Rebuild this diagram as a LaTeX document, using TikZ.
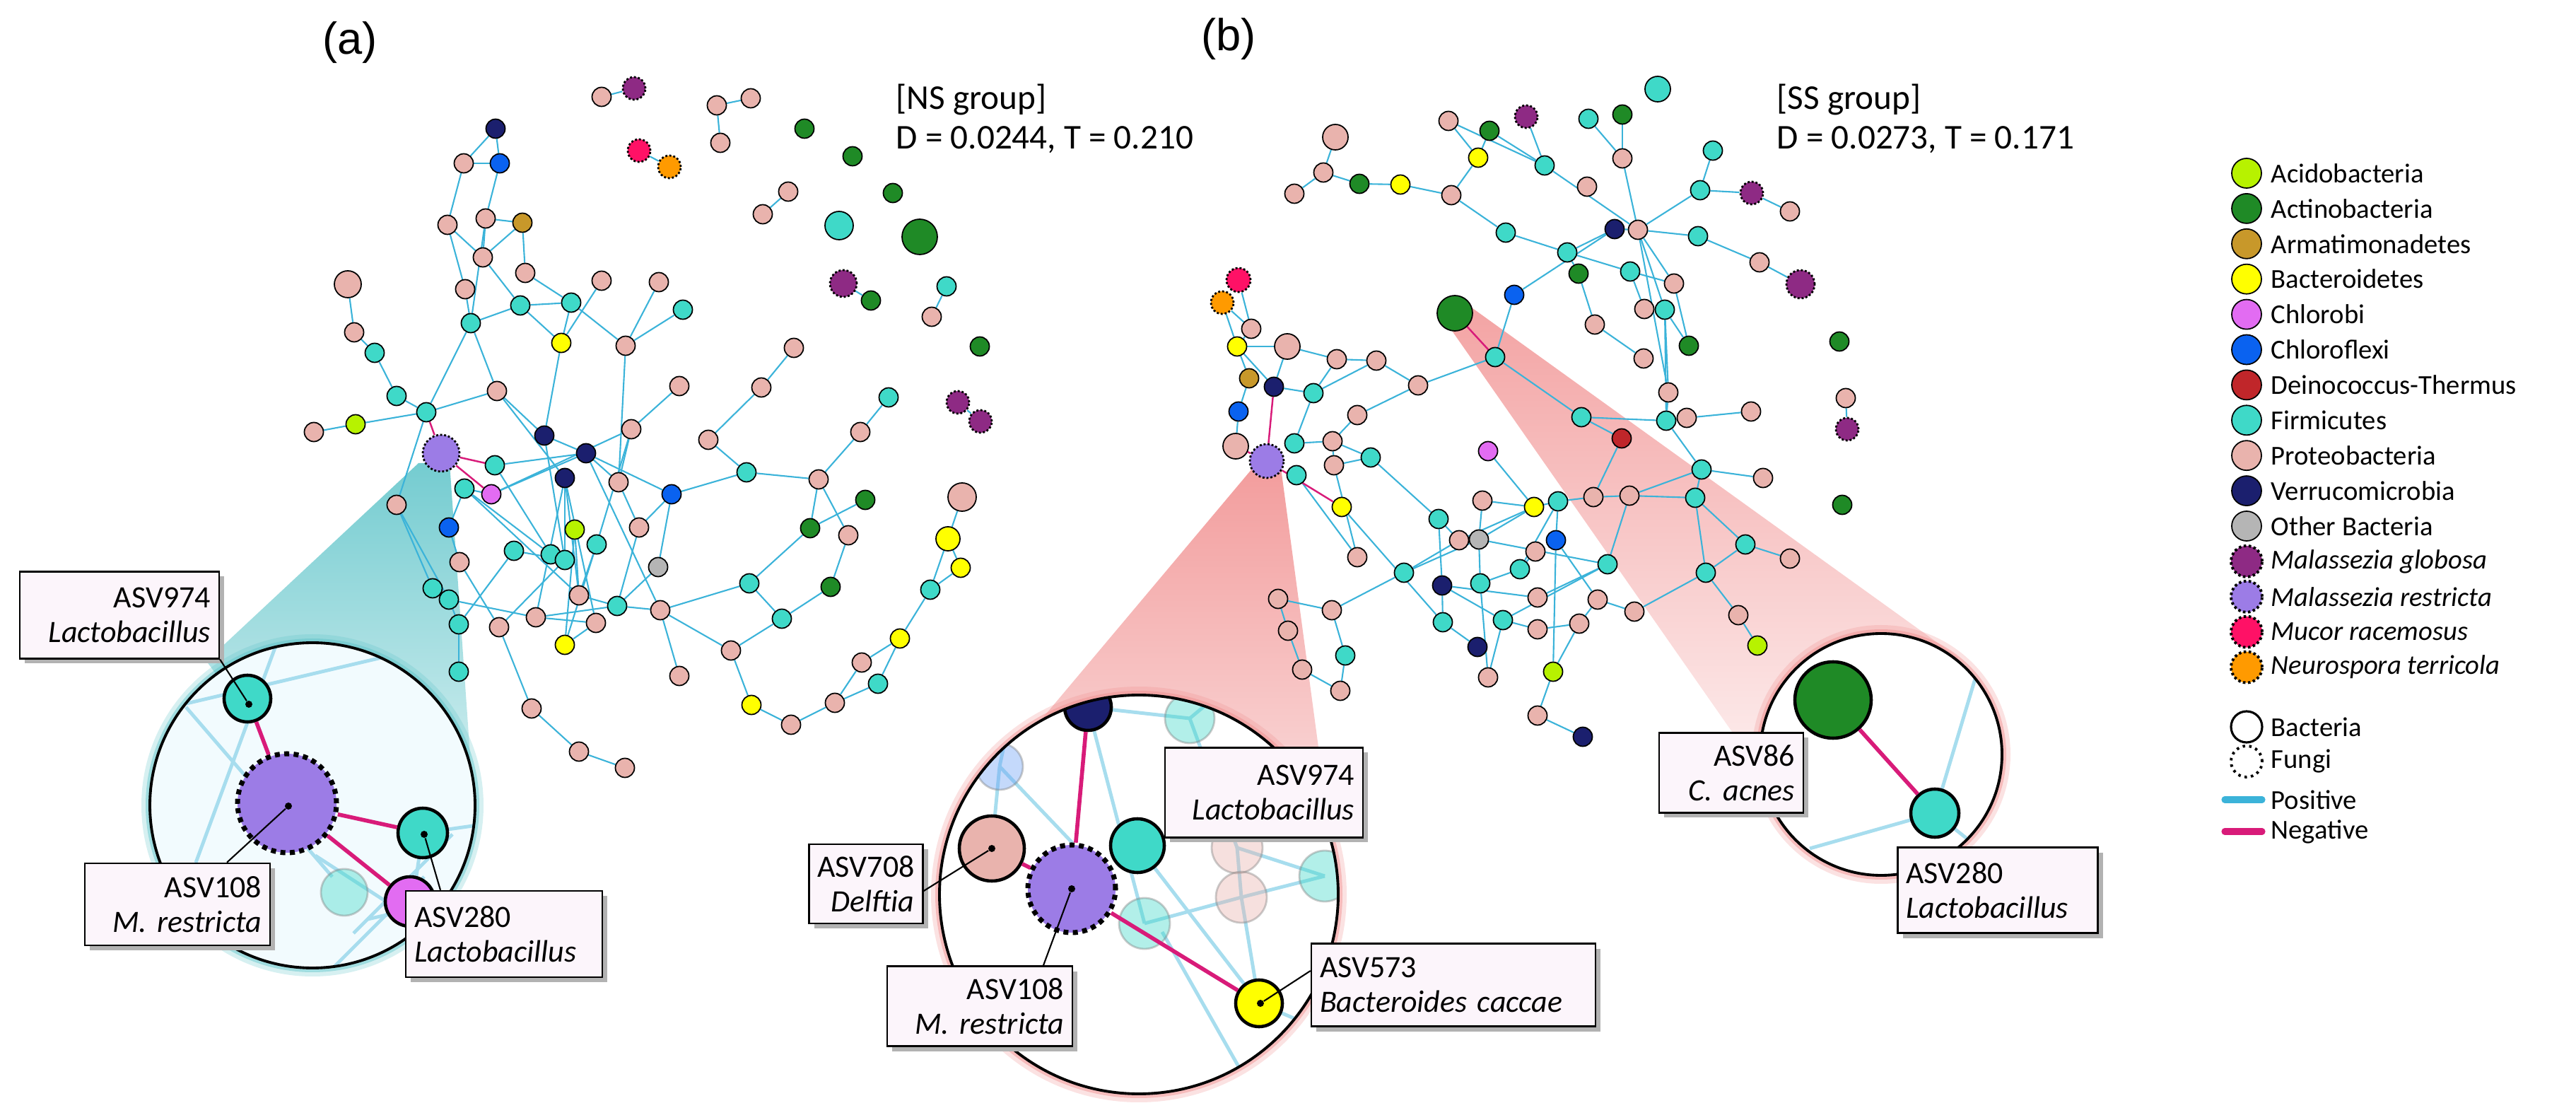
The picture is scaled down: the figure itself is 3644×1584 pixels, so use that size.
\documentclass[tikz,border=0pt]{standalone}
\usepackage{fontspec}
\setmainfont{Carlito}
\newfontfamily\arialf{Liberation Sans}
\usetikzlibrary{backgrounds,shadows}
\definecolor{cP}{HTML}{E9B3AD}
\definecolor{cF}{HTML}{3FD9C8}
\definecolor{cG}{HTML}{1F8A26}
\definecolor{cV}{HTML}{1B1F6E}
\definecolor{cB}{HTML}{0A62F0}
\definecolor{cA}{HTML}{B7F200}
\definecolor{cY}{HTML}{FFFF00}
\definecolor{cC}{HTML}{E26CF2}
\definecolor{cR}{HTML}{C8982A}
\definecolor{cD}{HTML}{C0262A}
\definecolor{cO}{HTML}{B5B5B5}
\definecolor{cMG}{HTML}{8E2A84}
\definecolor{cMR}{HTML}{9C7CE6}
\definecolor{cMU}{HTML}{FF1166}
\definecolor{cNT}{HTML}{FF9A00}
\definecolor{epos}{HTML}{3BB3D9}
\definecolor{eneg}{HTML}{D81B79}
\definecolor{boxc}{HTML}{FCF5FB}
\definecolor{glowA}{HTML}{5CC3C8}
\definecolor{glowB}{HTML}{F08C8C}
\tikzset{
 nd/.style={circle,draw=black,line width=0.5pt,inner sep=0pt,minimum size=2.7mm},
 fg/.style={circle,draw=black,inner sep=0pt,minimum size=3.2mm,line width=0.8pt,dash pattern=on 0.8pt off 0.8pt},
 pe/.style={draw=epos,line width=0.6pt},
 ne/.style={draw=eneg,line width=0.7pt},
 lpe/.style={draw=epos!45,line width=1.4pt},
 lne/.style={draw=eneg,line width=1.6pt},
 faint/.style={circle,draw=gray,line width=0.8pt,inner sep=0pt,opacity=0.4},
 big/.style={circle,draw=black,line width=1.3pt,inner sep=0pt},
 bigf/.style={circle,draw=black,line width=2pt,inner sep=0pt,dash pattern=on 2pt off 1.8pt},
 dot/.style={circle,fill=black,inner sep=0pt,minimum size=1mm},
 lead/.style={draw=black,line width=0.6pt},
 box/.style={draw=black,line width=0.7pt,fill=boxc,inner sep=1.2mm,font=\fontsize{12.5}{14}\selectfont,drop shadow={shadow xshift=0.7mm,shadow yshift=-0.7mm,fill=gray!60,opacity=1}},
 lgt/.style={font=\fontsize{11}{12}\selectfont,inner sep=0pt,anchor=west},
 grp/.style={font=\fontsize{14}{16}\selectfont,inner sep=0pt,anchor=north west,align=left},
}
\begin{document}
\begin{tikzpicture}[x=0.1mm,y=-0.1mm]
\useasboundingbox (0,0) rectangle (3644,1584);
% ---------- panel (a) nodes ----------
\foreach \n/\x/\y/\t in {a1/851/137/P,a3/1014/149/P,a4/1062/139/P,a5/1019/202/P,a8/1138/182/G,a9/1206/221/G,a10/1263/273/G,a11/1115/271/P,a12/1079/303/P,a16/1232/425/G,a17/1339/405/F,a18/1318/448/P,a19/1386/490/G,a24/1359/803/Y,a25/1316/834/F,a26/1273/903/Y,a27/1219/937/P,a28/1242/967/F,a29/1181/994/P,a30/1119/1025/P,a31/1063/997/Y,a32/1034/920/P,a33/1106/875/F,a34/1175/830/G,a35/1060/825/F,a36/961/956/P,a37/934/863/P,a38/931/802/O,a39/904/746/P,a40/950/699/B,a41/875/682/P,a42/1056/668/F,a43/1158/678/P,a44/1224/707/G,a45/1146/747/G,a46/1200/757/P,a47/1257/562/F,a48/1217/611/P,a49/1002/622/P,a50/1077/548/P,a51/1123/492/P,a52/961/546/P,a53/893/607/P,a54/829/641/V,a55/799/676/V,a56/770/616/V,a57/703/553/P,a58/700/658/F,a59/695/699/C,a60/657/691/F,a62/603/583/F,a63/503/600/A,a64/444/611/P,a65/561/560/F,a66/530/499/F,a67/501/470/P,a69/666/457/F,a70/658/409/P,a71/683/364/P,a72/633/318/P,a73/687/309/P,a74/739/315/R,a75/656/231/P,a76/707/231/B,a77/701/182/V,a78/743/386/P,a79/736/432/F,a80/808/428/F,a81/851/397/P,a82/932/399/P,a83/966/438/F,a84/794/485/Y,a85/885/489/P,a86/561/714/P,a87/635/746/B,a88/813/749/A,a89/844/770/F,a90/727/779/F,a91/779/784/F,a92/799/792/F,a93/650/795/P,a94/612/832/F,a95/635/848/F,a96/649/883/F,a97/706/887/P,a98/758/873/P,a99/819/842/P,a100/843/881/P,a101/873/857/F,a102/799/912/Y,a103/649/950/F,a104/752/1002/P,a105/819/1063/P,a106/884/1086/P}
  \node[nd,fill=c\t] (\n) at (\x,\y) {};
\node[fg,fill=cMG] (a2) at (897,125) {};
\node[fg,fill=cMU] (a6) at (904,213) {};
\node[fg,fill=cNT] (a7) at (947,236) {};
\node[nd,fill=cF,minimum size=4mm] (a13) at (1187,319) {};
\node[nd,fill=cG,minimum size=5mm] (a14) at (1301,335) {};
\node[fg,fill=cMG,minimum size=3.8mm] (a15) at (1193,401) {};
\node[fg,fill=cMG] (a20) at (1355,569) {};
\node[fg,fill=cMG] (a21) at (1387,596) {};
\node[nd,fill=cP,minimum size=4mm] (a22) at (1361,703) {};
\node[nd,fill=cY,minimum size=3.4mm] (a23) at (1341,762) {};
\node[fg,fill=cMR,minimum size=5.2mm] (a61) at (624,641) {};
\node[nd,fill=cP,minimum size=3.8mm] (a68) at (492,402) {};
% ---------- panel (b) nodes ----------
\foreach \n/\x/\y/\t in {b2/2049/171/P,b4/2107/185/G,b5/2247/168/F,b6/2295/162/G,b8/2091/223/Y,b9/2185/234/F,b10/2295/224/P,b11/2423/213/F,b12/1872/244/P,b13/1831/274/P,b14/1923/260/G,b15/1981/261/Y,b16/2053/276/P,b17/2245/264/P,b18/2405/269/F,b20/2532/299/P,b21/2130/329/F,b22/2284/324/V,b23/2317/325/P,b24/2402/334/F,b25/2217/357/F,b26/2233/387/G,b27/2306/384/F,b28/2489/371/P,b29/2368/401/P,b33/2142/417/B,b34/2326/437/P,b35/2355/438/F,b37/2256/459/P,b38/1770/465/P,b39/2602/483/G,b40/1750/490/Y,b42/1891/508/P,b43/1947/510/P,b44/2325/507/P,b45/2389/489/G,b46/2115/505/F,b47/1767/535/R,b48/1802/547/V,b49/1858/556/F,b50/2006/545/P,b51/2360/555/P,b52/2611/563/P,b53/1752/582/B,b54/1920/587/P,b55/2237/590/F,b56/2357/595/F,b57/2386/591/P,b58/2477/582/P,b61/1831/627/F,b62/1885/624/P,b63/2294/620/D,b64/2105/638/C,b66/1887/658/P,b67/1939/647/F,b68/1834/672/F,b69/2407/664/F,b70/2494/676/P,b71/2606/714/G,b72/1898/717/Y,b73/2097/708/P,b74/2170/717/Y,b75/2204/709/F,b76/2254/703/P,b77/2305/701/P,b78/2398/704/F,b79/2035/734/F,c1/2064/764/P,c2/2092/763/O,c3/2201/764/B,c4/2172/780/P,c5/2274/798/F,c6/2469/770/F,c7/2532/790/P,c8/2413/810/F,c9/1920/788/P,c10/1986/810/F,c11/2040/828/V,c12/2094/825/F,c13/2150/805/F,c14/1808/847/P,c15/1884/863/P,c16/2175/845/P,c17/2260/848/P,c18/2312/865/P,c19/2459/870/P,c20/2041/880/F,c21/2126/877/F,c22/2175/890/P,c23/2234/882/P,c24/1822/892/P,c25/1903/927/F,c26/2090/915/V,c27/2486/913/A,c28/1842/947/P,c29/2197/950/A,c30/1896/977/P,c31/2105/958/P,c32/2175/1012/P,c33/2239/1042/V}
  \node[nd,fill=c\t] (\n) at (\x,\y) {};
\node[nd,fill=cF,minimum size=3.6mm] (b1) at (2345,126) {};
\node[fg,fill=cMG] (b3) at (2159,165) {};
\node[nd,fill=cP,minimum size=3.6mm] (b7) at (1889,194) {};
\node[fg,fill=cMG] (b19) at (2478,273) {};
\node[fg,fill=cMG,minimum size=4mm] (b30) at (2547,402) {};
\node[fg,fill=cMU,minimum size=3.4mm] (b31) at (1752,396) {};
\node[fg,fill=cNT] (b32) at (1729,428) {};
\node[nd,fill=cG,minimum size=5mm] (b36) at (2058,443) {};
\node[nd,fill=cP,minimum size=3.6mm] (b41) at (1821,490) {};
\node[fg,fill=cMG] (b59) at (2613,607) {};
\node[nd,fill=cP,minimum size=3.6mm] (b60) at (1748,631) {};
\node[fg,fill=cMR,minimum size=4.8mm] (b65) at (1792,652) {};
% ---------- background: wedges and edges ----------
\begin{pgfonlayer}{background}
\shade[top color=glowA!85,bottom color=glowA!25] (592,655) -- (636,655) -- (670,1139) -- (442,1139) -- (292,935) -- cycle;
\shade[top color=glowB!85,bottom color=glowB!20] (1772,662) -- (1812,662) -- (1893,1265) -- (1611,1265) -- (1345,1170) -- cycle;
\shade[top color=glowB!80,bottom color=glowB!15] (2045,455) -- (2072,428) -- (2770,930) -- (2661,1067) -- (2492,1095) -- cycle;
\foreach \u/\v in {a1/a2,a3/a4,a3/a5,a6/a7,a11/a12,a15/a16,a17/a18,a20/a21,a22/a23,a23/a24,a23/a25,a24/a25,a25/a26,a26/a27,a26/a28,a27/a29,a28/a29,a29/a30,a30/a31,a31/a32,a32/a33,a33/a34,a33/a35,a35/a45,a45/a44,a45/a43,a43/a46,a46/a34,a43/a42,a43/a48,a48/a47,a42/a49,a49/a50,a50/a51,a42/a40,a54/a41,a54/a40,a40/a39,a40/a38,a39/a41,a39/a101,a38/a101,a37/a101,a37/a36,a37/a32,a37/a35,a41/a53,a53/a52,a54/a37,a77/a75,a77/a76,a75/a76,a75/a72,a76/a73,a72/a71,a72/a70,a73/a74,a73/a71,a73/a69,a74/a71,a74/a78,a71/a79,a70/a69,a78/a80,a79/a80,a79/a69,a79/a84,a80/a84,a81/a84,a80/a85,a82/a85,a83/a85,a85/a41,a84/a56,a69/a57,a69/a62,a57/a62,a57/a56,a57/a55,a68/a67,a67/a66,a66/a65,a65/a62,a63/a62,a64/a63,a62/a86,a86/a94,a58/a54,a60/a87,a60/a59,a59/a54,a59/a53,a60/a91,a60/a99,a87/a93,a90/a96,a90/a92,a56/a92,a55/a92,a55/a98,a55/a99,a55/a100,a88/a102,a88/a99,a89/a99,a89/a102,a89/a53,a92/a97,a93/a97,a94/a95,a95/a96,a95/a98,a96/a103,a97/a104,a104/a105,a105/a106,a98/a101,a98/a100,a100/a102,a99/a101,a86/a95,a56/a54,a58/a91,
 b2/b8,b2/b9,b4/b8,b4/b9,b3/b9,b8/b16,b7/b12,b12/b13,b12/b14,b14/b15,b15/b16,b16/b21,b21/b25,b5/b10,b6/b10,b10/b23,b9/b23,b11/b18,b18/b19,b19/b20,b18/b23,b23/b24,b24/b28,b28/b30,b22/b25,b22/b33,b22/b23,b25/b27,b25/b26,b26/b37,b27/b29,b27/b34,b23/b35,b23/b29,b23/b51,b29/b45,b35/b45,b34/b35,b37/b44,b33/b46,b46/b50,b46/b55,b35/b51,b51/b56,b56/b57,b57/b58,b56/b55,b55/b63,b63/b76,b56/b69,b69/b78,b69/b77,b78/b77,b77/b76,b76/b75,b75/b74,b74/b73,b50/b43,b43/b42,b42/b41,b41/b40,b50/b54,b43/b49,b42/b49,b49/b48,b48/b40,b40/b38,b38/b31,b38/b32,b40/b32,b40/b47,b47/b53,b53/b60,b41/b48,b49/b61,b62/b67,b61/b62,b62/b66,b66/b67,b67/b79,b64/b74,b54/b62,b70/b69,b52/b59,b35/b56,
 b68/c9,c10/c1,c10/c2,c15/c10,c14/c15,c14/c24,c15/c25,c24/c28,c28/c30,c30/c25,b79/c1,b79/c11,b74/c1,b74/c2,b73/c2,c2/c5,c2/c12,c3/b75,c3/c17,c3/c29,c5/b77,c5/c21,c6/b78,c6/c7,c6/c8,b78/c8,c8/c18,c8/c19,c19/c27,c18/c17,c17/c23,c11/c21,c11/c16,c12/c13,c13/b75,c13/c4,c21/c31,c21/c22,c22/c23,c23/c29,c29/c32,c32/c33,c26/c20,c12/c31,c16/c5,c9/b66,c20/c11,b72/c20}
  \draw[pe] (\u) -- (\v);
\foreach \u/\v in {a62/a61,a61/a58,a61/a59,b48/b65,b65/b72,b65/b60,b36/b46}
  \draw[ne] (\u) -- (\v);
\end{pgfonlayer}
% ---------- magnifier (a) ----------
\draw[glowA,line width=2.4mm,opacity=0.25] (442,1139) circle[radius=23mm];
\draw[glowA,line width=1.2mm,opacity=0.45] (442,1139) circle[radius=23mm];
\fill[cyan!5!white] (442,1139) circle[radius=23mm];
\begin{scope}
\clip (442,1139) circle[radius=23mm];
\foreach \p/\q in {{(200,1010)}/{(540,930)},{(277,1220)}/{(395,900)},{(263,1000)}/{(470,1240)},{(446,1210)}/{(600,1310)},{(500,1320)}/{(640,1180)},{(460,1380)}/{(600,1240)},{(598,1178)}/{(690,1165)},{(598,1178)}/{(580,1300)},{(520,1300)}/{(700,1260)}}
  \draw[lpe] \p -- \q;
\node[faint,fill=cF,minimum size=6.6mm] (ma4) at (487,1262) {};
\node[big,fill=cC,minimum size=7mm] (ma5) at (580,1275) {};
\end{scope}
\node[big,fill=cF,minimum size=6.6mm] (ma1) at (350,988) {};
\node[bigf,fill=cMR,minimum size=14mm] (ma2) at (406,1136) {};
\node[big,fill=cF,minimum size=7mm] (ma3) at (598,1178) {};
\draw[lne] (ma1) -- (ma2);
\draw[lne] (ma2) -- (ma3);
\draw[lne] (ma2) -- (ma5);
\draw[black,line width=1.1pt] (442,1139) circle[radius=23mm];
\node[dot] (da1) at (352,996) {};
\node[dot] (da2) at (408,1140) {};
\node[dot] (da3) at (600,1180) {};
\node[box,minimum width=28.2mm,minimum height=12.3mm,text width=25.8mm,align=right] (ba1) at (169,870) {ASV974\\\textit{Lactobacillus}};
\node[box,minimum width=26.2mm,minimum height=11.6mm,text width=23.8mm,align=right] (ba2) at (251,1279) {ASV108\\\textit{M. restricta}};
\node[box,minimum width=27.8mm,minimum height=12.2mm,text width=25.4mm,align=left] (ba3) at (713,1321) {ASV280\\\textit{Lactobacillus}};
\draw[lead] (da1) -- (ba1.south east);
\draw[lead] (da2) -- ([xshift=7mm]ba2.north);
\draw[lead] (da3) -- ([xshift=-9mm]ba3.north);
% ---------- magnifier (b) left ----------
\draw[glowB,line width=2.4mm,opacity=0.25] (1611,1265) circle[radius=28.2mm];
\draw[glowB,line width=1.2mm,opacity=0.45] (1611,1265) circle[radius=28.2mm];
\fill[white] (1611,1265) circle[radius=28.2mm];
\begin{scope}
\clip (1611,1265) circle[radius=28.2mm];
\foreach \p/\q in {{(1539,1000)}/{(1619,1306)},{(1539,1000)}/{(1683,1016)},{(1414,1084)}/{(1403,1200)},{(1414,1084)}/{(1517,1192)},{(1683,1016)}/{(1750,1199)},{(1750,1199)}/{(1874,1239)},{(1756,1269)}/{(1874,1239)},{(1619,1306)}/{(1756,1269)},{(1609,1196)}/{(1781,1419)},{(1756,1269)}/{(1781,1419)},{(1644,1318)}/{(1770,1540)},{(1750,1199)}/{(1756,1269)},{(1781,1419)}/{(1830,1440)},{(1414,1084)}/{(1440,960)},{(1683,1016)}/{(1750,960)}}
  \draw[lpe] \p -- \q;
\node[faint,fill=cF,minimum size=7mm] (mb2) at (1683,1016) {};
\node[faint,fill=cB!60,minimum size=6.6mm] (mb3) at (1414,1084) {};
\node[faint,fill=cP,minimum size=7.2mm] (mb4) at (1750,1199) {};
\node[faint,fill=cP,minimum size=7.2mm] (mb5) at (1756,1269) {};
\node[faint,fill=cF,minimum size=7.2mm] (mb6) at (1619,1306) {};
\node[faint,fill=cF,minimum size=7.2mm] (mb7) at (1874,1239) {};
\node[big,fill=cV,minimum size=6.6mm] (mb1) at (1539,1000) {};
\end{scope}
\node[big,fill=cP,minimum size=9.2mm] (mb8) at (1403,1200) {};
\node[bigf,fill=cMR,minimum size=12.4mm] (mb9) at (1516,1257) {};
\node[big,fill=cF,minimum size=7.6mm] (mb10) at (1609,1196) {};
\node[big,fill=cY,minimum size=6.6mm] (mb11) at (1781,1419) {};
\draw[lne] (mb9) -- (mb1);
\draw[lne] (mb9) -- (mb8);
\draw[lne] (mb9) -- (mb11);
\draw[black,line width=1.1pt] (1611,1265) circle[radius=28.2mm];
\node[dot] (db1) at (1403,1200) {};
\node[dot] (db2) at (1516,1257) {};
\node[dot] (db3) at (1783,1419) {};
\node[box,minimum width=28mm,minimum height=12.7mm,text width=25.6mm,align=right] (bb1) at (1788,1121) {ASV974\\\textit{Lactobacillus}};
\node[box,minimum width=40.2mm,minimum height=11.7mm,text width=37.8mm,align=left] (bb2) at (2056,1393) {ASV573\\\textit{Bacteroides caccae}};
\node[box,minimum width=26.2mm,minimum height=11.3mm,text width=23.8mm,align=right] (bb3) at (1386,1423) {ASV108\\\textit{M. restricta}};
\node[box,minimum width=16.1mm,minimum height=11.2mm,text width=13.7mm,align=right] (bb4) at (1225,1250) {ASV708\\\textit{Delftia}};
\draw[lead] (db1) -- ([yshift=-1mm]bb4.east);
\draw[lead] (db2) -- ([xshift=9mm]bb3.north);
\draw[lead] (db3) -- ([yshift=2mm]bb2.west);
% ---------- magnifier (b) right ----------
\draw[glowB,line width=2.4mm,opacity=0.25] (2661,1067) circle[radius=17.1mm];
\draw[glowB,line width=1.2mm,opacity=0.45] (2661,1067) circle[radius=17.1mm];
\fill[white] (2661,1067) circle[radius=17.1mm];
\begin{scope}
\clip (2661,1067) circle[radius=17.1mm];
\foreach \p/\q in {{(2737,1150)}/{(2800,940)},{(2737,1150)}/{(2560,1200)},{(2737,1150)}/{(2800,1200)}}
  \draw[lpe] \p -- \q;
\end{scope}
\node[big,fill=cG,minimum size=10.8mm] (mc1) at (2593,990) {};
\node[big,fill=cF,minimum size=6.8mm] (mc2) at (2737,1150) {};
\draw[lne] (mc1) -- (mc2);
\draw[black,line width=1.1pt] (2661,1067) circle[radius=17.1mm];
\node[box,minimum width=20.4mm,minimum height=11.3mm,text width=18mm,align=right] (bc1) at (2449,1093) {ASV86\\\textit{C. acnes}};
\node[box,minimum width=28.3mm,minimum height=12.1mm,text width=25.9mm,align=left] (bc2) at (2826,1259) {ASV280\\\textit{Lactobacillus}};
% ---------- titles ----------
\node[font=\arialf\fontsize{18}{20}\selectfont] (ta) at (495,60) {(a)};
\node[font=\arialf\fontsize{18}{20}\selectfont] (tb) at (1738,55) {(b)};
\node[grp] (ga) at (1267,118) {[NS group]\\D = 0.0244, T = 0.210};
\node[grp] (gb) at (2513,118) {[SS group]\\D = 0.0273, T = 0.171};
% ---------- legend ----------
\foreach \c/\t [count=\i from 0] in {A/Acidobacteria,G/Actinobacteria,R/Armatimonadetes,Y/Bacteroidetes,C/Chlorobi,B/Chloroflexi,D/Deinococcus-Thermus,F/Firmicutes,P/Proteobacteria,V/Verrucomicrobia,O/Other Bacteria}{
  \node[nd,fill=c\c,minimum size=4.2mm] (lg\i) at (3178,{245+49.9*\i}) {};
  \node[lgt] (lt\i) at (3212,{245+49.9*\i}) {\t};
}
\foreach \c/\t [count=\i from 11] in {MG/Malassezia globosa,MR/Malassezia restricta,MU/Mucor racemosus,NT/Neurospora terricola}{
  \node[fg,fill=c\c,minimum size=4.4mm,line width=1.1pt,dash pattern=on 1pt off 1pt] (lg\i) at (3178,{245+49.9*\i}) {};
  \node[lgt,font=\fontsize{11}{12}\selectfont\itshape] (lt\i) at (3212,{245+49.9*\i}) {\t};
}
\node[circle,draw=black,line width=0.9pt,minimum size=4.4mm,inner sep=0pt] (lbac) at (3178,1028) {};
\node[lgt] (tbac) at (3212,1028) {Bacteria};
\node[circle,draw=black,line width=1.1pt,minimum size=4.4mm,inner sep=0pt,dash pattern=on 1pt off 1.6pt] (lfun) at (3178,1077) {};
\node[lgt] (tfun) at (3212,1077) {Fungi};
\coordinate (lp1) at (3147,1131); \coordinate (lp2) at (3200,1131);
\draw[epos,line width=2.6pt,line cap=round] (lp1) -- (lp2);
\node[lgt] (tpos) at (3212,1131) {Positive};
\coordinate (ln1) at (3147,1176); \coordinate (ln2) at (3200,1176);
\draw[eneg,line width=2.6pt,line cap=round] (ln1) -- (ln2);
\node[lgt] (tneg) at (3212,1176) {Negative};
\end{tikzpicture}
\end{document}
